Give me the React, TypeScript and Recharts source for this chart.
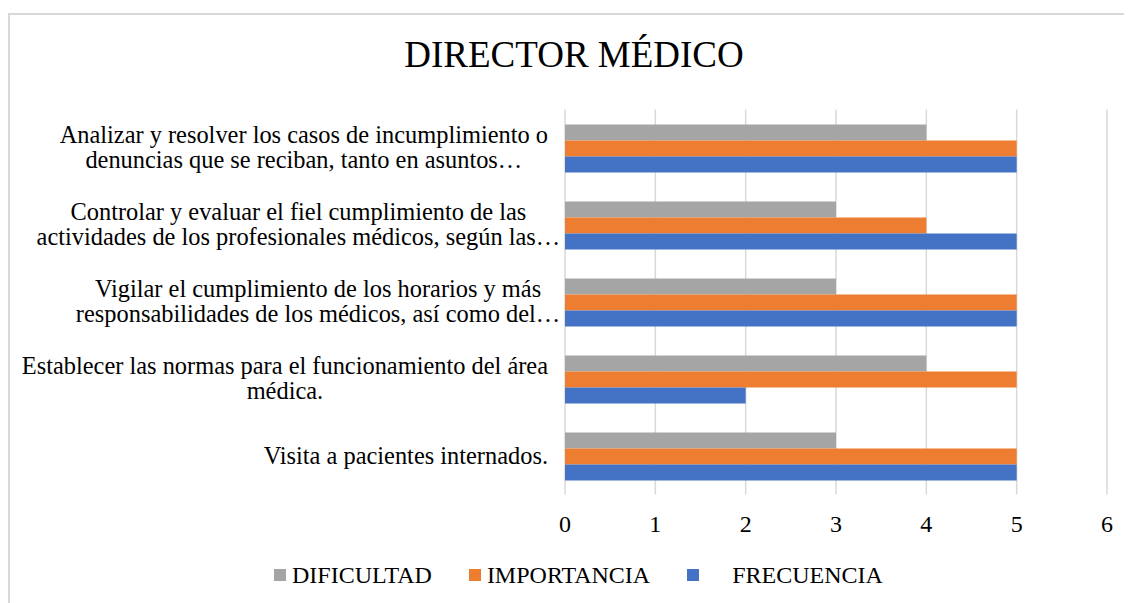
import React from "react";
import { BarChart, Bar, XAxis, YAxis, CartesianGrid, Legend } from "recharts";

const FONT = '"Liberation Serif", "Times New Roman", Times, serif';

const categories: string[][] = [
  ["Analizar y resolver los casos de incumplimiento o", "denuncias que se reciban, tanto en asuntos…"],
  ["Controlar y evaluar el fiel cumplimiento de las", "actividades de los profesionales médicos, según las…"],
  ["Vigilar el cumplimiento de los horarios y más", "responsabilidades de los médicos, así como del…"],
  ["Establecer las normas para el funcionamiento del área", "médica."],
  ["Visita a pacientes internados."],
];
const dificultad = [4, 3, 3, 4, 3];
const importancia = [5, 4, 5, 5, 5];
const frecuencia = [5, 5, 5, 2, 5];
const xTicks = [0, 1, 2, 3, 4, 5, 6];
const seriesNames = ["DIFICULTAD", "IMPORTANCIA", "FRECUENCIA"];
const seriesColors = ["#a5a5a5", "#ed7d31", "#4472c4"];
const title = "DIRECTOR MÉDICO";

const data = categories.map((lines, i) => ({
  cat: lines.join(" "),
  dif: dificultad[i],
  imp: importancia[i],
  fre: frecuencia[i],
}));

const LABEL_SIZE = 24.4;

let ctx: CanvasRenderingContext2D | null = null;
function measure(text: string, size: number) {
  if (!ctx) {
    const c = document.createElement("canvas");
    ctx = c.getContext("2d");
  }
  if (!ctx) return text.length * size * 0.45;
  ctx.font = `${size}px "Liberation Serif"`;
  return ctx.measureText(text).width;
}

const YTick = (props: any) => {
  const { x, y, payload } = props;
  const idx = categories.findIndex((l) => l.join(" ") === payload.value);
  const lines = categories[idx] || [String(payload.value)];
  const n = lines.length;
  const W = Math.max(...lines.map((l) => measure(l.replace(/…$/, ""), LABEL_SIZE)));
  const cx = x - 17 - W / 2;
  const first = y - (n - 1) * 12.5 + 7.5;
  return (
    <g>
      {lines.map((l, i) => (
        <text key={i} x={cx} y={first + i * 25} textAnchor="middle" fontSize={LABEL_SIZE} fontFamily={FONT} fill="#000">
          {l}
        </text>
      ))}
    </g>
  );
};

const XTick = (props: any) => {
  const { x, y, payload } = props;
  return (
    <text x={x} y={y + 37.5} textAnchor="middle" fontSize={24} fontFamily={FONT} fill="#000">
      {payload.value}
    </text>
  );
};

const renderLegend = () => {
  return (
    <div style={{ height: 30, display: "flex", alignItems: "center", paddingLeft: 266, fontFamily: FONT, fontSize: 24, color: "#000" }}>
      {seriesNames.map((name, i) => (
        <div key={i} style={{ display: "flex", alignItems: "center", marginRight: 37 }}>
          <div style={{ width: 12, height: 12, background: seriesColors[i], marginRight: i === 2 ? 33 : 6 }} />
          <span style={{ whiteSpace: "pre", lineHeight: "30px" }}>{name}</span>
        </div>
      ))}
    </div>
  );
};

export default function App() {
  return (
    <div style={{ position: "relative", width: 1124, height: 595 }}>
      <style>{`body{overflow:hidden}`}</style>
      <div
        style={{
          position: "absolute",
          left: 0,
          top: 5,
          width: 1130,
          height: 600,
          borderTop: "2px solid #d9d9d9",
          borderLeft: "2px solid #d9d9d9",
        }}
      />
      <div style={{ position: "absolute", left: 0, top: 0 }}>
        <BarChart
          width={1124}
          height={595}
          data={data}
          layout="vertical"
          margin={{ top: 101.5, right: 25, bottom: 38.5, left: 0 }}
          barGap={0}
          barSize={16}
        >
          <CartesianGrid horizontal={false} vertical={true} stroke="#d9d9d9" strokeWidth={1.5} />
          <XAxis
            type="number"
            domain={[0, 6]}
            ticks={xTicks}
            axisLine={false}
            tickLine={false}
            tickSize={0}
            tickMargin={0}
            height={40}
            tick={<XTick />}
            interval={0}
          />
          <YAxis
            type="category"
            dataKey="cat"
            width={557}
            axisLine={false}
            tickLine={false}
            tickSize={0}
            tickMargin={0}
            tick={<YTick />}
            interval={0}
          />
          <Legend
            content={renderLegend}
            verticalAlign="bottom"
            wrapperStyle={{ top: 552, left: 0, width: 1124 }}
          />
          <Bar dataKey="dif" name={seriesNames[0]} fill={seriesColors[0]} isAnimationActive={false} />
          <Bar dataKey="imp" name={seriesNames[1]} fill={seriesColors[1]} isAnimationActive={false} />
          <Bar dataKey="fre" name={seriesNames[2]} fill={seriesColors[2]} isAnimationActive={false} />
        </BarChart>
      </div>
      <svg style={{ position: "absolute", left: 0, top: 0, pointerEvents: "none" }} width={1124} height={100}>
        <text x={566} y={58.5} textAnchor="middle" fontSize={37} fontFamily={FONT} fill="#000">
          {title}
        </text>
      </svg>
    </div>
  );
}
